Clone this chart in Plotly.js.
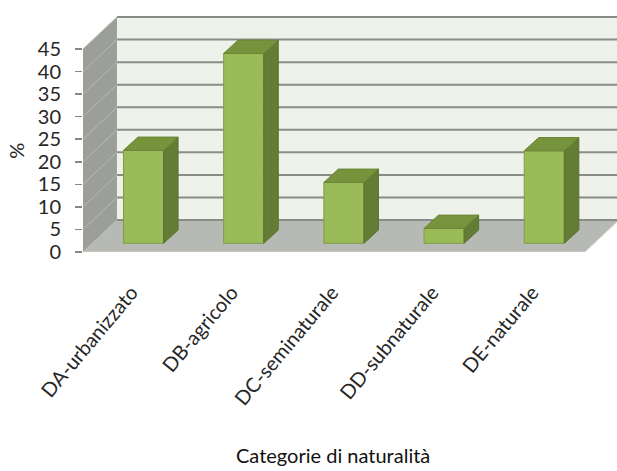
<!DOCTYPE html>
<html>
<head>
<meta charset="utf-8">
<script src="https://cdn.plot.ly/plotly-3.0.1.min.js"></script>
<style>
  html, body { margin: 0; padding: 0; background: #ffffff; }
  #chart { width: 617px; height: 471px; }
</style>
</head>
<body>
<div id="chart"></div>
<script>
// Data
const categories = ['DA-urbanizzato', 'DB-agricolo', 'DC-seminaturale', 'DD-subnaturale', 'DE-naturale'];
const percentages = [20.6, 42.1, 13.5, 3.3, 20.5];
const yTickValues = [0, 5, 10, 15, 20, 25, 30, 35, 40, 45];

// Pseudo-3D box geometry, in axis units
const X_MIN = -0.604, X_MAX = 4.726;     // visible x range
const Y_MAX = 52.32;                      // visible y range top
const WALL_TOP = 45;                      // height of the walls
const FLOOR_RIGHT = 4.406;                // front-right corner of the floor
const DEPTH_X = 0.339, DEPTH_Y = 7.09;    // front-to-back offset of the box
const BAR_W = 0.4;                        // width of a bar front face
const BAR_BASE = 1.93;                    // lift of the bar front plane above the front edge
const BAR_DX = 0.145, BAR_DY = 2.95;      // depth of each bar
const LABEL_SHIFT = 0.12;                 // category labels sit slightly left of the bars

const FONT = 'Lato, "Open Sans", sans-serif';

function poly(pts) {
  return 'M ' + pts.map(p => p[0] + ',' + p[1]).join(' L ') + ' Z';
}

const shapes = [];
const xL = X_MIN, xB = X_MIN + DEPTH_X;

// back wall
shapes.push({
  type: 'path', xref: 'x', yref: 'y', layer: 'below',
  path: poly([[xB, DEPTH_Y], [X_MAX + 1, DEPTH_Y], [X_MAX + 1, WALL_TOP + DEPTH_Y], [xB, WALL_TOP + DEPTH_Y]]),
  fillcolor: '#eef2ea', line: { width: 0 }
});
// floor
shapes.push({
  type: 'path', xref: 'x', yref: 'y', layer: 'below',
  path: poly([[xL, 0], [FLOOR_RIGHT, 0], [FLOOR_RIGHT + DEPTH_X, DEPTH_Y], [xB, DEPTH_Y]]),
  fillcolor: '#b7b9b4', line: { width: 1, color: '#d4d6d1' }
});
// side wall
shapes.push({
  type: 'path', xref: 'x', yref: 'y', layer: 'below',
  path: poly([[xL, 0], [xB, DEPTH_Y], [xB, WALL_TOP + DEPTH_Y], [xL, WALL_TOP]]),
  fillcolor: '#9c9e99', line: { width: 0 }
});
// gridlines on the back wall and on the side wall
yTickValues.forEach(v => {
  shapes.push({
    type: 'line', xref: 'x', yref: 'y', layer: 'below',
    x0: xB, x1: X_MAX + 1, y0: v + DEPTH_Y, y1: v + DEPTH_Y,
    line: { color: '#8a8c88', width: 2 }
  });
  shapes.push({
    type: 'line', xref: 'x', yref: 'y', layer: 'below',
    x0: xL, x1: xB, y0: v, y1: v + DEPTH_Y,
    line: { color: '#b8bab5', width: 1 }
  });
});

// side and top faces of each bar
const xIdx = categories.map((_, i) => i);
percentages.forEach((v, i) => {
  const l = xIdx[i] - BAR_W / 2, r = xIdx[i] + BAR_W / 2;
  const b = BAR_BASE, t = BAR_BASE + v;
  shapes.push({
    type: 'path', xref: 'x', yref: 'y', layer: 'above',
    path: poly([[r, b], [r + BAR_DX, b + BAR_DY], [r + BAR_DX, t + BAR_DY], [r, t]]),
    fillcolor: '#647d35', line: { color: '#5a7230', width: 1 }
  });
  shapes.push({
    type: 'path', xref: 'x', yref: 'y', layer: 'above',
    path: poly([[l, t], [l + BAR_DX, t + BAR_DY], [r + BAR_DX, t + BAR_DY], [r, t]]),
    fillcolor: '#77933c', line: { color: '#6a8536', width: 1 }
  });
});

const trace = {
  type: 'bar',
  x: xIdx,
  y: percentages,
  base: BAR_BASE,
  width: BAR_W,
  marker: { color: '#9bbb59', line: { color: '#7e9d45', width: 1 } },
  hoverinfo: 'skip'
};

const layout = {
  width: 617, height: 471,
  margin: { l: 83, r: 0, t: 16, b: 219, pad: 0 },
  paper_bgcolor: '#ffffff', plot_bgcolor: 'rgba(0,0,0,0)',
  showlegend: false,
  font: { family: FONT, color: '#262626', size: 20 },
  xaxis: {
    range: [X_MIN, X_MAX], showgrid: false, zeroline: false, showline: false,
    tickvals: xIdx.map(i => i - LABEL_SHIFT), ticktext: categories, tickangle: -50, ticks: '',
    ticklabelstandoff: 24,
    tickfont: { family: FONT, size: 20, color: '#262626' },
    fixedrange: true, automargin: false
  },
  yaxis: {
    range: [0, Y_MAX], showgrid: false, zeroline: false, showline: false,
    tickvals: yTickValues, ticks: 'outside', ticklen: 7, tickwidth: 1.5, tickcolor: '#868686',
    ticklabelstandoff: 10,
    tickfont: { family: FONT, size: 20, color: '#262626' },
    fixedrange: true, automargin: false
  },
  shapes: shapes,
  annotations: [
    {
      text: '%', xref: 'paper', yref: 'y', x: -0.127, y: (yTickValues[0] + yTickValues[yTickValues.length - 1]) / 2,
      textangle: -90, showarrow: false, xanchor: 'center', yanchor: 'middle',
      font: { family: FONT, size: 20, color: '#262626' }
    },
    {
      text: 'Categorie di naturalità', xref: 'paper', yref: 'paper', x: 0.468, y: -0.86,
      showarrow: false, xanchor: 'center', yanchor: 'middle',
      font: { family: FONT, size: 20, color: '#111111' }
    }
  ]
};

Plotly.newPlot('chart', [trace], layout, { displayModeBar: false, staticPlot: true });
</script>
</body>
</html>
